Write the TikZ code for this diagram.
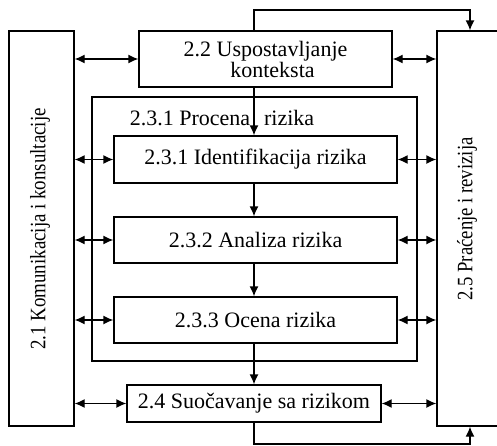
\documentclass[tikz,border=0pt]{standalone}
\usepackage{fontspec}
\setmainfont{Liberation Serif}
\usepackage{graphicx}
\usetikzlibrary{arrows.meta}
\begin{document}
\begin{tikzpicture}[x=1pt,y=-1pt,
  box/.style={draw, line width=1.3pt, rectangle, inner sep=0pt},
  txt/.style={inner sep=0pt, font=\fontsize{22}{21}\selectfont},
  link/.style={line width=1.3pt, -{Latex[length=10pt,width=9pt]}},
  both/.style={line width=1.3pt, {Latex[length=10pt,width=9pt]}-{Latex[length=10pt,width=9pt]}}]
\useasboundingbox (0,0) rectangle (497,445);
\clip (0,0) rectangle (497,445);
% side boxes
\node[box, minimum width=65, minimum height=395] (komun) at (41.5,228.5) {};
\node[txt, rotate=90] (komuntext) at (40,229) {\scalebox{0.86}[1]{2.1 Komunikacija i konsultacije}};
\node[box, minimum width=63, minimum height=395] (pracenje) at (468.5,228.5) {};
\node[txt, rotate=90] (pracenjetext) at (467,219) {\scalebox{0.85}[1]{2.5 Praćenje i revizija}};
% context
\node[box, txt, align=center, minimum width=253, minimum height=56] (kontekst) at (265.5,59)
  {2.2 Uspostavljanje\\\hspace*{14pt}konteksta};
% assessment frame
\node[box, minimum width=325, minimum height=264] (procena) at (254.5,229) {};
\node[txt] (procenatext) at (222,118) {2.3.1 Procena\hspace{14pt}rizika};
\node[box, txt, minimum width=283, minimum height=47] (ident) at (255.5,159.5) {2.3.1 Identifikacija rizika};
\node[box, txt, minimum width=283, minimum height=46] (analiza) at (255.5,240) {2.3.2 Analiza rizika};
\node[box, txt, minimum width=283, minimum height=46] (ocena) at (255.5,320) {2.3.3 Ocena rizika};
\node[box, txt, minimum width=254, minimum height=37] (suoc) at (254,403.5) {2.4 Suočavanje sa rizikom};
% helper coordinates
\coordinate (spine) at (254,0);
\coordinate (topr) at (470,10);
\coordinate (botr) at (470,444);
% vertical flow
\draw[link] (kontekst.south -| spine) -- (ident.north -| spine);
\draw[link] (ident.south -| spine) -- (analiza.north -| spine);
\draw[link] (analiza.south -| spine) -- (ocena.north -| spine);
\draw[link] (ocena.south -| spine) -- (suoc.north -| spine);
% loops to monitoring
\draw[link] (kontekst.north -| spine) |- (topr) -- (pracenje.north -| topr);
\draw[link] (suoc.south -| spine) |- (botr) -- (pracenje.south -| botr);
% two-way links
\foreach \b in {kontekst, ident, analiza, ocena, suoc} {
  \draw[both] (komun.east |- \b.west) -- (\b.west);
  \draw[both] (\b.east) -- (pracenje.west |- \b.east);
}
\end{tikzpicture}
\end{document}
